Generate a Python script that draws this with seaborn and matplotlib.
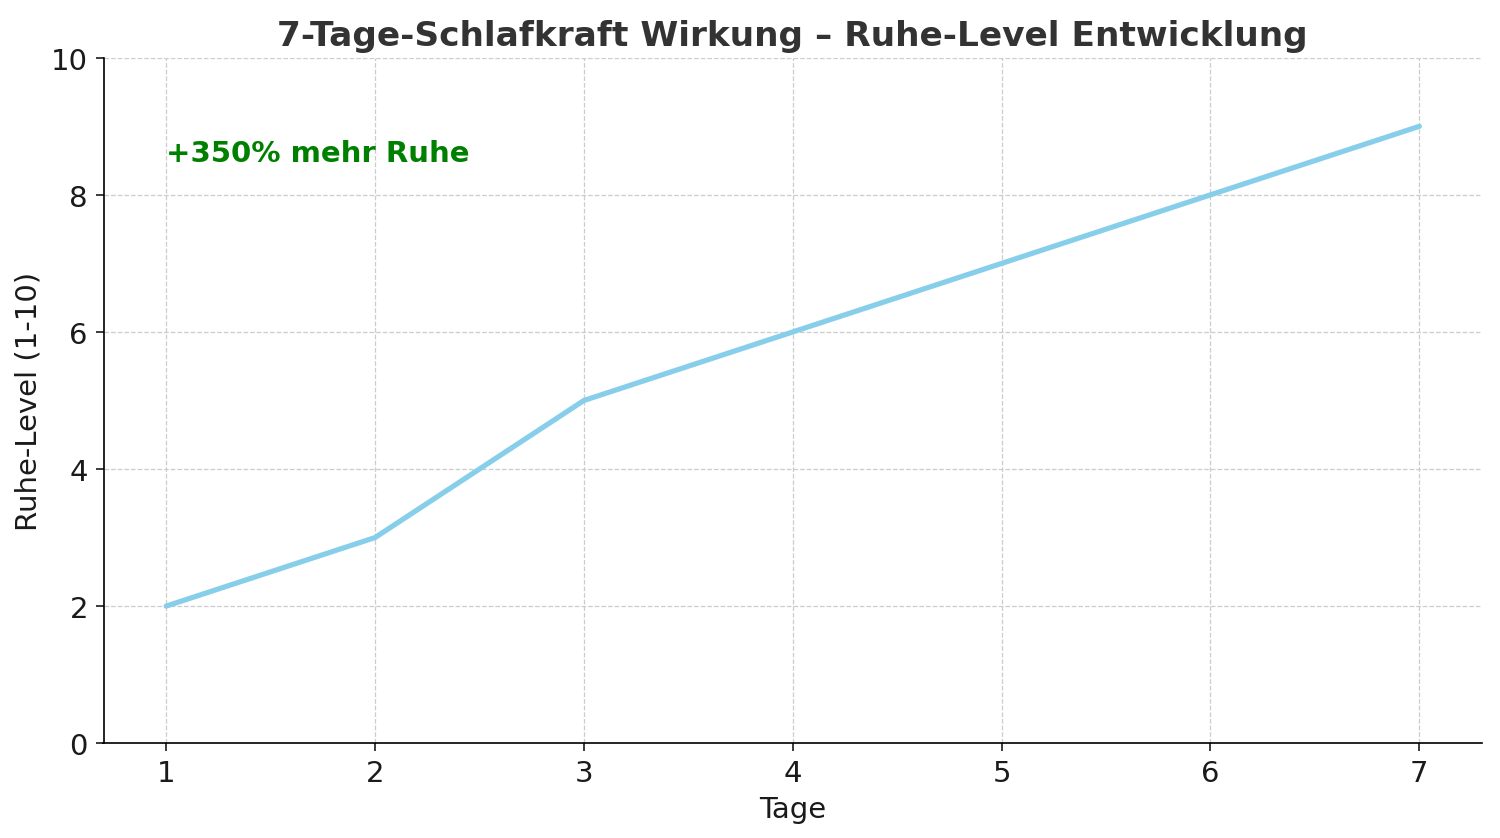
import matplotlib
matplotlib.use("Agg")
import pandas as pd
import seaborn as sns
import matplotlib.pyplot as plt

# Daten
tage = [1, 2, 3, 4, 5, 6, 7]
ruhe_level = [2, 3, 5, 6, 7, 8, 9]

df = pd.DataFrame({"Tage": tage, "Ruhe": ruhe_level})

sns.set_style("white")
plt.rcParams['font.family'] = ['DejaVu Sans']

fig, ax = plt.subplots(figsize=(10, 5.593), dpi=150)
sns.lineplot(data=df, x="Tage", y="Ruhe", color="skyblue", linewidth=2.5, ax=ax)

ax.set_ylim(0, 10)
ax.set_xticks(tage)
ax.grid(True, linestyle="--", linewidth=0.6, color="#cccccc")
ax.spines["top"].set_visible(False)
ax.spines["right"].set_visible(False)
for s in ["left", "bottom"]:
    ax.spines[s].set_color("black")
ax.tick_params(axis="both", labelsize=14, length=4, left=True, bottom=True,
               colors="#1a1a1a")

ax.set_title("7-Tage-Schlafkraft Wirkung – Ruhe-Level Entwicklung",
             fontsize=16.5, fontweight="bold", color="#333333")
ax.set_xlabel("Tage", fontsize=14, color="#1a1a1a")
ax.set_ylabel("Ruhe-Level (1-10)", fontsize=14, color="#1a1a1a")

ax.text(1, 8.5, "+350% mehr Ruhe", fontsize=14, fontweight="bold", color="green")

fig.subplots_adjust(left=0.069, right=0.988, top=0.93, bottom=0.113)
fig.savefig("out.png", dpi=150)
